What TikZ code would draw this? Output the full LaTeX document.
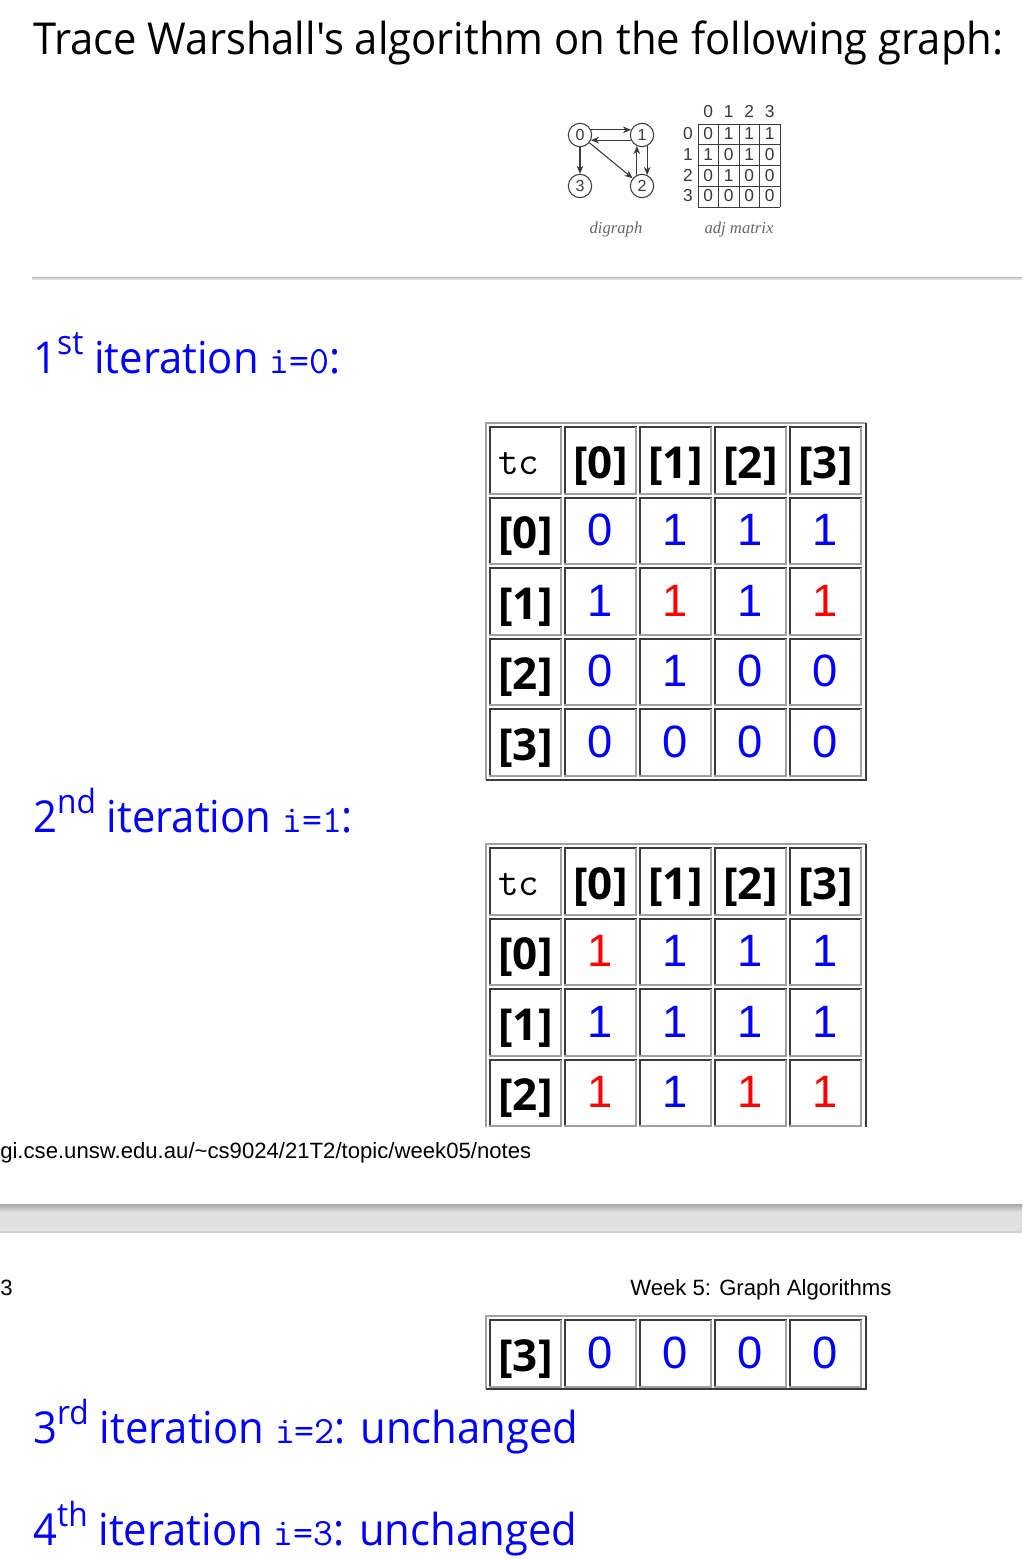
\documentclass[tikz,border=0pt]{standalone}
\usepackage{fontspec}
\setmainfont{Open Sans}[FakeStretch=0.95]
\newfontfamily\titlef{Open Sans}[FakeStretch=0.95, Ligatures=TeXOff]
\newfontfamily\boldf{Open Sans}
\newfontfamily\arialf{Liberation Sans}
\newfontfamily\timesf{Liberation Serif}
\usetikzlibrary{arrows.meta}
\definecolor{hblue}{RGB}{0,0,255}
\definecolor{hred}{RGB}{255,0,0}
\definecolor{bdark}{HTML}{3A3A3A}
\definecolor{blight}{HTML}{A0A0A0}
\definecolor{dg}{HTML}{3A3A3A}
\newcommand\Bv[1]{\textcolor{hblue}{#1}}
\newcommand\Rv[1]{\textcolor{hred}{#1}}
\newcommand\sups[1]{\raisebox{14pt}{\fontsize{25}{25}\selectfont #1}}
\newcommand\ttv[1]{{\ttfamily\fontsize{29}{36}\selectfont #1}}
\newcommand\tbox[2]{%
  \draw[bdark, line width=1.5pt] (#1+1,#2+68.5) -- (#1+1,#2+1) -- (#1+73,#2+1);
  \draw[blight, line width=1.5pt] (#1+72,#2+1) -- (#1+72,#2+67.5) -- (#1,#2+67.5);
}
\newcommand\trow[7]{%
  \foreach \cx in {489,564,639,714,789} {\tbox{\cx}{#2}}
  \node[lab] (#1l) at (525.5,#2+52) {#3};
  \node[num] (#1a) at (600.5,#2+49) {#4};
  \node[num] (#1b) at (675.5,#2+49) {#5};
  \node[num] (#1c) at (750.5,#2+49) {#6};
  \node[num] (#1d) at (825.5,#2+49) {#7};
}
\newcommand\thead[2]{%
  \foreach \cx in {489,564,639,714,789} {\tbox{\cx}{#2}}
  \node[tcs] (#1t) at (498,#2+48) {tc};
  \node[lab] (#1h0) at (600.5,#2+52) {[0]};
  \node[lab] (#1h1) at (675.5,#2+52) {[1]};
  \node[lab] (#1h2) at (750.5,#2+52) {[2]};
  \node[lab] (#1h3) at (825.5,#2+52) {[3]};
}
\begin{document}
\begin{tikzpicture}[x=0.75pt,y=-0.75pt,
  title/.style={anchor=base west, inner sep=0, font=\titlef\fontsize{33}{40}\selectfont},
  head/.style={anchor=base west, inner sep=0, text=hblue, font=\fontsize{33}{40}\selectfont},
  num/.style={anchor=base, inner sep=0, text=hblue, font=\arialf\fontsize{34}{40}\selectfont},
  lab/.style={anchor=base, inner sep=0, font=\boldf\bfseries\fontsize{33}{40}\selectfont},
  tcs/.style={anchor=base west, inner sep=0, font=\ttfamily\fontsize{30}{35}\selectfont},
  small/.style={anchor=base west, inner sep=0, font=\arialf\fontsize{16.6}{19}\selectfont},
  dgn/.style={circle, draw=dg, line width=0.8pt, minimum size=17.5pt, inner sep=0, text=dg, font=\arialf\fontsize{12}{14}\selectfont},
  dge/.style={draw=dg, line width=0.8pt, -{Stealth[length=6pt,width=5pt]}},
  mx/.style={anchor=base, inner sep=0, text=dg, font=\arialf\fontsize{13}{15}\selectfont},
  mxl/.style={draw=dg, line width=0.7pt},
  capt/.style={anchor=base, inner sep=0, text=black!60, font=\timesf\itshape\fontsize{12.5}{15}\selectfont},
  outl/.style={blight, line width=1.5pt},
  outd/.style={bdark, line width=1.5pt}
]
\useasboundingbox (0,0) rectangle (1022,1559);
\fill[white] (0,0) rectangle (1022,1559);

% title
\node[title] (title) at (33,55) {Trace Warshall's algorithm on the following graph:};

% digraph
\node[dgn] (g0) at (580,135) {0};
\node[dgn] (g1) at (642,135) {1};
\node[dgn] (g3) at (580,186) {3};
\node[dgn] (g2) at (642,186) {2};
\draw[dge] (g0.25) -- (g1.155);
\draw[dge] (g1.-155) -- (g0.-25);
\draw[dge] (g0) -- (g3);
\draw[dge] (g0) -- (g2);
\draw[dge] (g2.115) -- (g1.-115);
\draw[dge] (g1.-65) -- (g2.65);
\node[capt] (cdg) at (616,233) {digraph};

% adjacency matrix
\foreach \gx in {698,718.5,739,759.5,780} \draw[mxl] (\gx,124) -- (\gx,207);
\foreach \gy in {124,144.75,165.5,186.25,207} \draw[mxl] (698,\gy) -- (780,\gy);
\foreach \c in {0,1,2,3} \node[mx] (mc\c) at (708.25+20.5*\c,118) {\c};
\foreach \r/\vals in {0/{0,1,1,1},1/{1,0,1,0},2/{0,1,0,0},3/{0,0,0,0}} {
  \node[mx] (mr\r) at (688,139.5+20.75*\r) {\r};
  \foreach \v [count=\c from 0] in \vals
    \node[mx] (m\r\c) at (708.25+20.5*\c,139.5+20.75*\r) {\v};
}
\node[capt] (cam) at (739,233) {adj matrix};

% rule
\draw[black!30, line width=0.9pt] (32,277.5) -- (1022,277.5);
\draw[black!12, line width=0.9pt] (32,279) -- (1022,279);

% 1st iteration
\node[head] (h1) at (33,373) {1\sups{st} iteration \ttv{i=0}:};
\draw[outl] (486,779.5) -- (486,423) -- (866,423);
\draw[outd] (866,423) -- (866,779.5) -- (486,779.5);
\thead{a}{426}
\trow{a0}{496.5}{[0]}{0}{1}{1}{1}
\trow{a1}{567}{[1]}{1}{\Rv{1}}{1}{\Rv{1}}
\trow{a2}{637.5}{[2]}{0}{1}{0}{0}
\trow{a3}{708}{[3]}{0}{0}{0}{0}

% 2nd iteration
\node[head] (h2) at (33,832) {2\sups{nd} iteration \ttv{i=1}:};
\draw[outl] (486,1127) -- (486,844) -- (866,844);
\draw[outd] (866,844) -- (866,1127);
\thead{b}{847}
\trow{b0}{917.5}{[0]}{\Rv{1}}{1}{1}{1}
\trow{b1}{988}{[1]}{1}{1}{1}{1}
\trow{b2}{1058.5}{[2]}{\Rv{1}}{1}{\Rv{1}}{\Rv{1}}

% page footer / header
\node[small] (url) at (0,1158) {gi.cse.unsw.edu.au/\textasciitilde cs9024/21T2/topic/week05/notes};
\shade[top color=black!35, bottom color=black!12] (0,1204) rectangle (1022,1212);
\fill[black!12] (0,1212) rectangle (1022,1231);
\fill[black!18] (0,1231) rectangle (1022,1233);
\node[small] (pg) at (0,1295) {3};
\node[small] (wk) at (630,1295) {Week 5: Graph Algorithms};

% remaining row
\draw[outl] (486,1389) -- (486,1316) -- (866,1316);
\draw[outd] (866,1316) -- (866,1389) -- (486,1389);
\trow{c3}{1319}{[3]}{0}{0}{0}{0}

% 3rd and 4th
\node[head] (h3) at (33,1443) {3\sups{rd} iteration \ttv{i=2}: unchanged};
\node[head] (h4) at (33,1545) {4\sups{th} iteration \ttv{i=3}: unchanged};
\end{tikzpicture}
\end{document}
